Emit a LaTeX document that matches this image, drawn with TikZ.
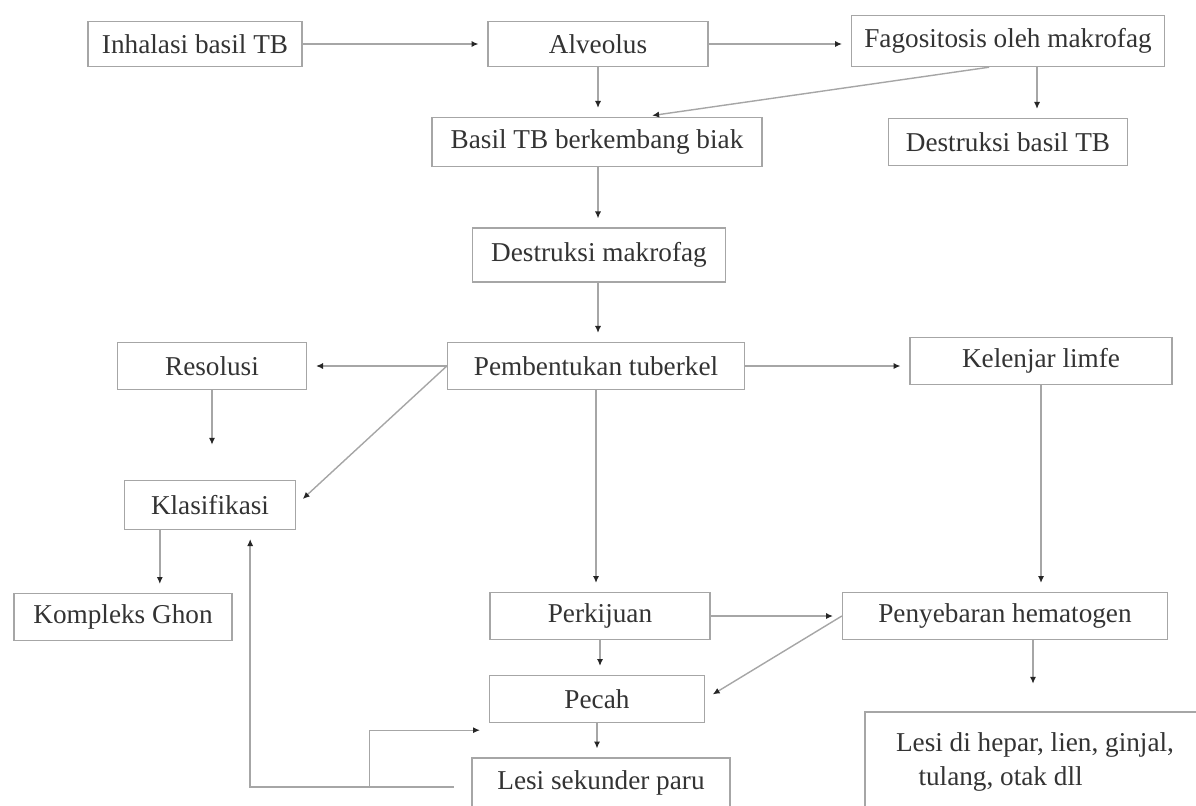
\documentclass[tikz,border=0pt]{standalone}
\usepackage{fontspec}
\setmainfont{Liberation Serif}
\usetikzlibrary{arrows.meta,calc}
\tikzset{
  box/.style={draw=gray!70, line width=0.8pt, minimum height=0.94cm, inner sep=2pt,
    text=black!80, font=\fontsize{15.5}{19}\selectfont},
  arr/.style={draw=gray!70, line width=0.8pt,
    -{Latex[length=4pt,width=3.5pt,color=black!85]}, shorten >=5pt},
}
\begin{document}
\begin{tikzpicture}[x=0.02cm, y=-0.02cm]
    \useasboundingbox (0,0) rectangle (1196,805);
    \clip (0,0) rectangle (1196,805);

    % top row
    \node[box, minimum width=4.28cm, minimum height=0.9cm] (inh) at (195,44) {Inhalasi basil TB};
    \node[box, minimum width=4.4cm, minimum height=0.9cm] (alv) at (598,44) {Alveolus};
    \node[box, minimum width=6.26cm, minimum height=1.02cm] (fago) at (1008,41) {Fagositosis oleh makrofag};

    % second row
    \node[box, minimum width=6.6cm, minimum height=0.98cm] (basil) at (597,142) {Basil TB berkembang biak};
    \node[box, minimum width=4.78cm] (db) at (1008,142) {Destruksi basil TB};
    \node[box, minimum width=5.06cm, minimum height=1.08cm] (dm) at (599,255) {Destruksi makrofag};

    % middle row
    \node[box, minimum width=3.78cm] (res) at (212,366) {Resolusi};
    \node[box, minimum width=5.94cm] (pemb) at (596,366) {Pembentukan tuberkel};
    \node[box, minimum width=5.24cm] (kel) at (1041,361) {Kelenjar limfe};
    \node[box, minimum width=3.42cm, minimum height=0.98cm] (klas) at (210,505) {Klasifikasi};

    % lower rows
    \node[box, minimum width=4.36cm] (komp) at (123,617) {Kompleks Ghon};
    \node[box, minimum width=4.4cm] (perk) at (600,616) {Perkijuan};
    \node[box, minimum width=6.5cm] (peny) at (1005,616) {Penyebaran hematogen};
    \node[box, minimum width=4.3cm] (pecah) at (597,699) {Pecah};
    \node[box, minimum width=5.16cm, minimum height=1.0cm] (lsp) at (601,783) {Lesi sekunder paru};
    \node[box, minimum width=6.8cm, minimum height=2cm, align=left] (hep) at (1035,762)
        {Lesi di hepar, lien, ginjal,\\\hspace*{0.45cm}tulang, otak dll};

    % connectors
    \draw[arr] (inh) -- (alv);
    \draw[arr] (alv.east) -- (alv.east -| fago.west);
    \draw[arr] (alv.south) -- (alv.south |- basil.north);
    \draw[arr] ($(fago.south west)!0.44!(fago.south east)$) -- ($(basil.north west)!0.64!(basil.north east)$);
    \draw[arr] ($(fago.south)+(29,0)$) coordinate (fd) -- (fd |- db.north);
    \draw[arr] (alv.south |- basil.south) -- (alv.south |- dm.north);
    \draw[arr] (alv.south |- dm.south) -- (alv.south |- pemb.north);

    \draw[arr] (pemb.west) -- (res.east);
    \draw[arr] (pemb.west) -- (klas.east);
    \draw[arr] (pemb.east) -- (pemb.east -| kel.west);
    \draw[arr] (pemb.south) -- (pemb.south |- perk.north);
    \draw[arr, shorten >=0.7cm] (res.south) -- (res.south |- klas.north);
    \draw[arr] ($(klas.south west)+(36,0)$) coordinate (kk) -- (kk |- komp.north);

    \draw[arr] (kel.south) -- (kel.south |- peny.north);
    \draw[arr] (perk.east) -- (peny.west);
    \draw[arr] (perk.south) -- (perk.south |- pecah.north);
    \draw[arr] (peny.west) -- (pecah.east);
    \draw[arr, shorten >=0.55cm] ($(peny.south)+(28,0)$) coordinate (ph) -- (ph |- hep.north);
    \draw[arr] (pecah.south) -- (pecah.south |- lsp.north);

    % back from lesi sekunder paru
    \draw[arr, shorten <=10pt] ($(lsp.west)+(0,4)$) -| ($(klas.south east)+(-46,0)$);
    \draw[arr] ($(lsp.west)+(-102,4)$) |- ($(pecah.south west)+(0,7)$);
\end{tikzpicture}
\end{document}
